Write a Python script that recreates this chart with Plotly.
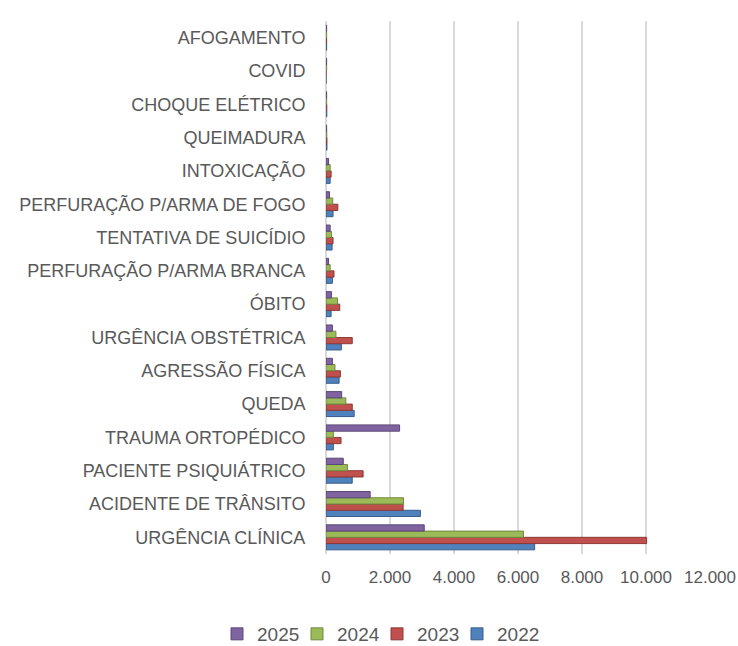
import plotly.graph_objects as go

categories = [
    "URGÊNCIA CLÍNICA", "ACIDENTE DE TRÂNSITO", "PACIENTE PSIQUIÁTRICO",
    "TRAUMA ORTOPÉDICO", "QUEDA", "AGRESSÃO FÍSICA", "URGÊNCIA OBSTÉTRICA",
    "ÓBITO", "PERFURAÇÃO P/ARMA BRANCA", "TENTATIVA DE SUICÍDIO",
    "PERFURAÇÃO P/ARMA DE FOGO", "INTOXICAÇÃO", "QUEIMADURA",
    "CHOQUE ELÉTRICO", "COVID", "AFOGAMENTO",
]
v2022 = [6520, 2950, 820, 230, 880, 410, 480, 160, 200, 190, 220, 130, 30, 25, 0, 20]
v2023 = [10020, 2410, 1160, 470, 820, 450, 820, 430, 250, 220, 370, 160, 30, 25, 0, 20]
v2024 = [6170, 2420, 670, 230, 620, 280, 310, 360, 130, 170, 210, 130, 25, 20, 20, 20]
v2025 = [3070, 1380, 540, 2300, 490, 200, 200, 170, 80, 130, 110, 80, 20, 20, 20, 20]
series_names = ["2022", "2023", "2024", "2025"]
series_values = [v2022, v2023, v2024, v2025]
colors = ["#4F81BD", "#C0504D", "#9BBB59", "#8064A2"]
edge = ["#385D8A", "#8C3836", "#71893F", "#5C4776"]
x_ticks = [0, 2000, 4000, 6000, 8000, 10000, 12000]

legend_ids = ["legend4", "legend3", "legend2", "legend"]
legend_left_px = [457, 377, 297, 217]

fig = go.Figure()
for name, vals, c, e, lg in zip(series_names, series_values, colors, edge, legend_ids):
    fig.add_trace(go.Bar(
        y=categories, x=vals, name=name, orientation="h", legend=lg,
        marker=dict(color=c, line=dict(color=e, width=1)),
    ))

W, H = 738, 646
legend_common = dict(orientation="h", xref="container", xanchor="left",
                     y=(H - 634) / H, yref="container", yanchor="middle",
                     bgcolor="rgba(0,0,0,0)",
                     font=dict(size=19, color="#595959"), itemwidth=30)
legends = {lg: dict(x=px / W, **legend_common) for lg, px in zip(legend_ids, legend_left_px)}

fig.update_layout(
    width=W, height=H, showlegend=True,
    barmode="group", bargap=0.25, bargroupgap=0,
    separators=",.",
    paper_bgcolor="white", plot_bgcolor="white",
    margin=dict(l=326, r=28, t=21, b=92, autoexpand=False),
    font=dict(family="Liberation Sans", size=18, color="#595959"),
    xaxis=dict(range=[0, 12000], tickvals=x_ticks, tickformat=",d", automargin=False,
               showgrid=True, gridcolor="#D9D9D9", gridwidth=2,
               zeroline=True, zerolinecolor="#D9D9D9", zerolinewidth=2,
               ticks="outside", ticklen=8, tickcolor="rgba(0,0,0,0)",
               tickfont=dict(size=17, color="#595959"), fixedrange=True),
    yaxis=dict(type="category", categoryorder="array", categoryarray=categories,
               automargin=False,
               showgrid=False, ticks="outside", ticklen=16, tickcolor="rgba(0,0,0,0)",
               tickfont=dict(size=18, color="#595959"), fixedrange=True),
    **legends,
)

fig.write_html("out.html", config={"displayModeBar": False},
               post_script="document.body.style.margin='0';")
